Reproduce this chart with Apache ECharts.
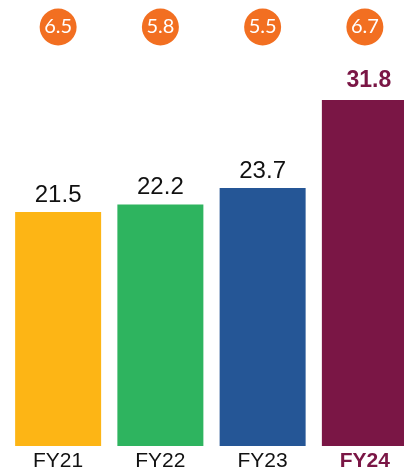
<!DOCTYPE html>
<html>
<head>
<meta charset="utf-8">
<script src="https://cdn.jsdelivr.net/npm/echarts@6/dist/echarts.min.js"></script>
<style>
  html, body { margin: 0; padding: 0; background: #fff; }
  #chart { width: 404px; height: 472px; }
</style>
</head>
<body>
<div id="chart"></div>
<script>
// data
const years = ['FY21', 'FY22', 'FY23', 'FY24'];
const revenue = [21.5, 22.2, 23.7, 31.8];
const badges = [6.5, 5.8, 5.5, 6.7];
const barColors = ['#FDB515', '#2EB45F', '#255696', '#7A1645'];

const maroon = '#7A1645';

let chart = echarts.init(document.getElementById('chart'));

chart.setOption({
    animation: false,
    grid: {
        left: 7,
        right: -12,
        top: 27,
        bottom: 26,
        containLabel: false,
        outerBoundsMode: 'none'
    },
    xAxis: {
        type: 'category',
        data: years,
        axisLine: { show: false },
        axisTick: { show: false },
        axisLabel: {
            interval: 0,
            margin: 5,
            fontFamily: 'Liberation Sans',
            fontSize: 21,
            color: '#111',
            formatter: function (v, i) {
                return i === 3 ? '{last|' + v + '}' : v;
            },
            rich: {
                last: {
                    fontFamily: 'Liberation Sans',
                    fontSize: 21,
                    fontWeight: 'bold',
                    color: maroon
                }
            }
        }
    },
    yAxis: [
        { type: 'value', min: 0, max: 38.5, show: false },
        { type: 'value', min: 0, max: 1, show: false }
    ],
    series: [
        {
            type: 'bar',
            barWidth: 86,
            data: revenue.map(function (v, i) {
                let item = { value: v, itemStyle: { color: barColors[i] } };
                if (i === 3) {
                    item.label = {
                        fontWeight: 'bold',
                        fontSize: 23,
                        color: maroon,
                        distance: 8,
                        offset: [4, 0]
                    };
                }
                return item;
            }),
            label: {
                show: true,
                position: 'top',
                distance: 5,
                fontFamily: 'Liberation Sans',
                fontSize: 24,
                color: '#111'
            }
        },
        {
            type: 'scatter',
            yAxisIndex: 1,
            symbolSize: 37,
            itemStyle: { color: '#F26F21', opacity: 1 },
            data: badges.map(function (v, i) { return [i, 1, v]; }),
            label: {
                show: true,
                position: 'inside',
                formatter: function (p) { return p.value[2].toFixed(1); },
                fontFamily: 'Lato',
                fontSize: 20,
                letterSpacing: -1,
                color: '#fff'
            }
        }
    ]
});
</script>
</body>
</html>
